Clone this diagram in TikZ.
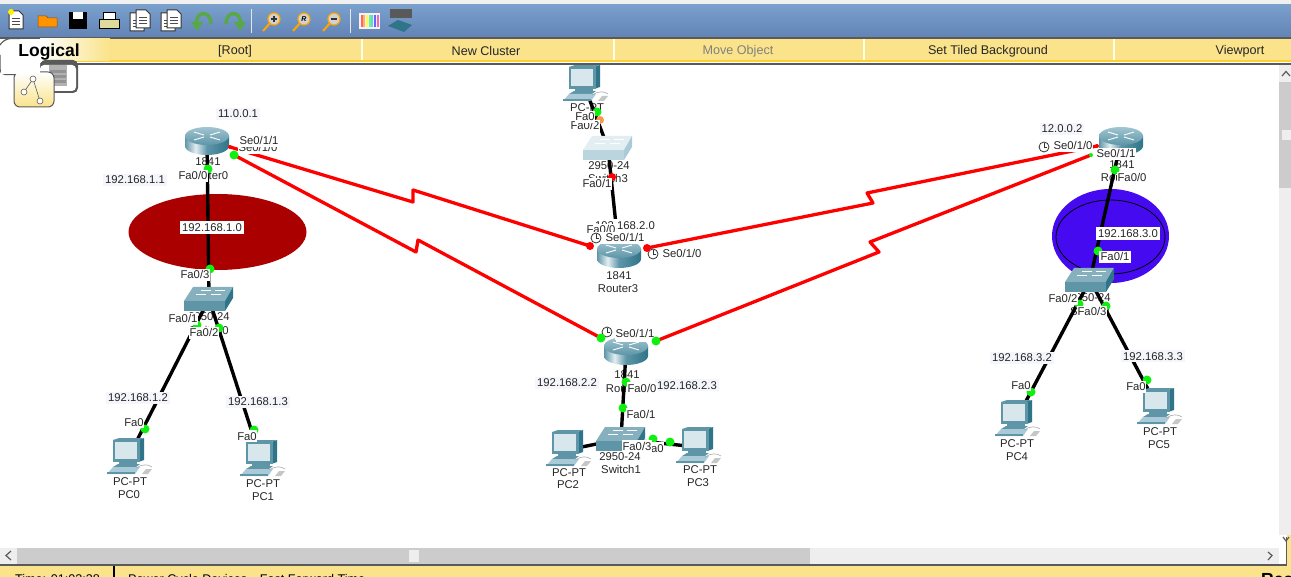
\documentclass[tikz,border=0pt]{standalone}
\usepackage{fontspec}
\setmainfont{Liberation Sans}
\definecolor{barY}{HTML}{FAE38A}
\definecolor{ipbg}{HTML}{F4F6FC}
\definecolor{trackG}{HTML}{CCCCCC}
\definecolor{btnG}{HTML}{EEEEEE}
\definecolor{edgeG}{HTML}{5A5A5A}
\definecolor{teal1}{HTML}{5E96A8}
\definecolor{teal2}{HTML}{2F7488}
\definecolor{teal3}{HTML}{A9CAD6}
\definecolor{teal4}{HTML}{E2EEF2}
\definecolor{okG}{HTML}{10F010}
\definecolor{undoG}{HTML}{58A848}
\pgfdeclarehorizontalshading{rbody}{100bp}{color(0bp)=(teal1); color(25bp)=(teal1); color(37bp)=(teal4); color(50bp)=(teal1); color(75bp)=(teal2); color(100bp)=(teal2)}
\tikzset{
  x=1pt,y=-1pt,
  wire/.style={line width=3.4pt,black},
  serial/.style={line width=3.3pt,red,line join=round},
  txt/.style={font=\fontsize{11.3}{12}\selectfont,inner xsep=0.5pt,inner ysep=0pt,text height=8pt,text depth=0pt,text=black!85},
  port/.style={txt,fill=white,inner ysep=2pt},
  ip/.style={txt,fill=ipbg,inner xsep=2pt,inner ysep=2pt},
  net/.style={txt,fill=white,inner xsep=2.5pt,inner ysep=2.5pt},
  menu/.style={font=\fontsize{12.6}{13}\selectfont,inner sep=0pt,text=black!85},
  okdot/.style={circle,fill=okG,minimum size=9pt,inner sep=0pt},
  reddot/.style={circle,fill=red,minimum size=8pt,inner sep=0pt},
  orgdot/.style={circle,fill=orange!80!red!70,minimum size=8pt,inner sep=0pt},
  routericon/.pic={
    \shade[shading=rbody]
      (-22,-5) -- (-22,5) arc[x radius=22,y radius=9,start angle=180,end angle=0] -- (22,-5) -- cycle;
    \shade[top color=teal3!90!teal1,bottom color=teal1] (0,-5) ellipse[x radius=22,y radius=9];
    \draw[white,line width=0.9pt] (-13,-9) -- (-3,-6) (13,-9) -- (3,-6) (-13,-1) -- (-3,-4) (13,-1) -- (3,-4);
  },
  switchicon/.pic={
    \fill[teal1!75!white] (-25,2) -- (-16,-12) -- (24,-12) -- (16,2) -- cycle;
    \fill[teal1] (-25,2) rectangle (16,12);
    \fill[teal2] (16,2) -- (24,-12) -- (24,-1) -- (16,12) -- cycle;
    \draw[white,line width=0.6pt] (-13,-5) -- (-3,-5) (2,-5) -- (12,-5) (-8,-9) -- (2,-9) (6,-9) -- (16,-9);
  },
  lightswitchicon/.pic={
    \fill[teal4] (-25,2) -- (-16,-12) -- (24,-12) -- (16,2) -- cycle;
    \fill[teal3!80!white] (-25,2) rectangle (16,12);
    \fill[teal3] (16,2) -- (24,-12) -- (24,-1) -- (16,12) -- cycle;
    \draw[white,line width=0.6pt] (-13,-5) -- (-3,-5) (2,-5) -- (12,-5) (-8,-9) -- (2,-9) (6,-9) -- (16,-9);
  },
  pcicon/.pic={
    \fill[teal2] (10,-18) -- (16,-20) -- (16,2) -- (10,4) -- cycle;
    \fill[teal1] (-15,-18) -- (10,-18) -- (16,-20) -- (-9,-20) -- cycle;
    \fill[teal1] (-15,-18) rectangle (12,4);
    \fill[teal4!80!teal3] (-13,-16) rectangle (9,1);
    \fill[teal1] (-9,4) rectangle (9,7);
    \fill[teal1] (-15,9) -- (-10,6) -- (12,6) -- (8,9) -- (-15,9);
    \fill[teal3] (-21,16) -- (-15,9) -- (12,9) -- (7,16) -- cycle;
    \fill[teal1] (-21,14) -- (7,14) -- (7,16) -- (-21,16) -- cycle;
    \draw[gray!70,line width=0.6pt] (8,10) .. controls (14,6) and (20,6) .. (24,9);
    \fill[gray!45] (14,16) -- (18,11) -- (24,11) -- (20,16) -- cycle;
  },
  clockicon/.pic={
    \draw[black!80,fill=white,line width=0.8pt] (0,0) circle[radius=5];
    \draw[black!80,line width=0.8pt] (0,-3.5) -- (0,0) -- (3,0);
  },
  docicon/.pic={
    \fill[white,draw=black!80,line width=1pt] (-7,-9) -- (3,-9) -- (7,-5) -- (7,9) -- (-7,9) -- cycle;
    \draw[black!70,line width=0.6pt] (-4,-2) -- (4,-2) (-4,1) -- (4,1) (-4,4) -- (4,4);
  },
  glass/.pic={
    \draw[orange!70!yellow,line width=2pt] (-8,9) -- (0,0);
    \fill[gray!35,draw=orange!70!yellow,line width=1.2pt] (3,-3) circle[radius=6];
  }
}
\begin{document}
\begin{tikzpicture}
\useasboundingbox (0,0) rectangle (1291,577);
\clip (0,0) rectangle (1291,577);
\fill[white] (0,0) rectangle (1291,577);

% device positions
\coordinate (r0) at (207,141);
\coordinate (r1) at (626,351);
\coordinate (r2) at (1121,141);
\coordinate (r3) at (619,254);
\coordinate (s0) at (209,299);
\coordinate (s1) at (621,439);
\coordinate (s2) at (1090,280);
\coordinate (s3) at (608,148);
\coordinate (pc0) at (128,458);
\coordinate (pc1) at (261,460);
\coordinate (pc2) at (567,450);
\coordinate (pc3) at (697,447);
\coordinate (pc4) at (1016,420);
\coordinate (pc5) at (1158,408);
\coordinate (pc6) at (584,85);

% clusters
\fill[red!67!black] (217.5,232) ellipse[x radius=89,y radius=38];
\fill[fill={rgb,255:red,70;green,10;blue,240}] (1110.5,236) ellipse[x radius=58.5,y radius=47];
\draw[black,line width=0.8pt] (1110.5,237) ellipse[x radius=54.5,y radius=37];

% device captions
\foreach \n/\p/\t in {
 n1/{208,162}/1841, n2/{208,176}/Router0, n3/{209,317}/2950-24, n4/{209,331}/Switch0,
 n5/{130,481}/PC-PT, n6/{129,494}/PC0, n7/{263,483}/PC-PT, n8/{263,496}/PC1,
 n9/{569,472}/PC-PT, n10/{568,484}/PC2, n11/{700,469}/PC-PT, n12/{698,482}/PC3,
 n13/{620,456}/2950-24, n14/{621,469}/Switch1, n15/{627,374}/1841, n16/{626,388}/Router1,
 n17/{619,276}/1841, n18/{618,289}/Router3, n19/{609,166}/2950-24, n20/{608,179}/Switch3,
 n21/{587,108}/PC-PT, n22/{1122,165}/1841, n23/{1121,178}/Router2, n24/{1090,298}/2950-24,
 n25/{1090,312}/Switch2, n26/{1017,443}/PC-PT, n27/{1017,456}/PC4, n28/{1160,431}/PC-PT,
 n29/{1159,444}/PC5}
 {\node[txt] (\n) at (\p) {\t};}

% links
\draw[wire] (r0) -- (s0);
\draw[wire] (s0) -- (pc0);
\draw[wire] (s0) -- (pc1);
\draw[wire] (pc6) -- (s3);
\draw[wire] (s3) -- (r3);
\draw[wire] (r1) -- (s1);
\draw[wire] (s1) -- (pc2);
\draw[wire] (s1) -- (pc3);
\draw[wire] (r2) -- (s2);
\draw[wire] (s2) -- (pc4);
\draw[wire] (s2) -- (pc5);

% serial end points
\coordinate (a0) at (230,147);
\coordinate (a1) at (234,155);
\coordinate (a2) at (590,246);
\coordinate (a3) at (601,338);
\coordinate (a4) at (647,248);
\coordinate (a5) at (656,341);
\coordinate (a6) at (1097,146);
\coordinate (a7) at (1091,155);
\draw[serial] (a0) -- (413,202) -- (413,190) -- (a2);
\draw[serial] (a1) -- (416,252) -- (418,240) -- (a3);
\draw[serial] (a4) -- (873,203) -- (867,193) -- (a6);
\draw[serial] (a5) -- (879,252) -- (870,242) -- (a7);

% icons
\pic at (r0) {routericon};
\pic at (r1) {routericon};
\pic at (r2) {routericon};
\pic at (r3) {routericon};
\pic at (s0) {switchicon};
\pic at (s1) {switchicon};
\pic at (s2) {switchicon};
\pic at (s3) {lightswitchicon};
\foreach \c in {pc0,pc1,pc2,pc3,pc4,pc5,pc6} {\pic at (\c) {pcicon};}

% link lights under the labels
\foreach \n/\p in {
 d1/{208,169}, d2/{210,269}, d4/{197,325}, d5/{219,328}, d6/{145,429}, d7/{254,430},
 d8/{597,112}, d11/{626,382}, d12/{623,408}, d13/{653,439}, d14/{670,442},
 d15/{1115,170}, d16/{1098,251}, d17/{1079,304}, d18/{1106,306}, d19/{1031,392}, d20/{1147,380}}
 {\node[okdot] (\n) at (\p) {};}
\node[okdot,minimum size=4pt] (d21) at (1091,155) {};
\node[orgdot] (d22) at (600,120) {};
\node[reddot] (d23) at (612,177) {};
\node[reddot,minimum size=4pt] (d26) at (1097,146) {};
\node[reddot,minimum size=4pt] (d27) at (230,147) {};

% addresses
\node[ip] (ip1) at (238,114) {11.0.0.1};
\node[ip] (ip2) at (135,180) {192.168.1.1};
\node[net] (ip3) at (212,228) {192.168.1.0};
\node[ip] (ip4) at (138,398) {192.168.1.2};
\node[ip] (ip5) at (258,402) {192.168.1.3};
\node[ip] (ip6) at (567,383) {192.168.2.2};
\node[ip] (ip7) at (687,385) {192.168.2.3};
\node[ip] (ip9) at (1062,129) {12.0.0.2};
\node[net] (ip10) at (1128,234) {192.168.3.0};
\node[ip] (ip11) at (1022,358) {192.168.3.2};
\node[ip] (ip12) at (1153,356) {192.168.3.3};

% port labels
\node[port] (p1) at (258,148) {Se0/1/0};
\node[port] (p2) at (259,141) {Se0/1/1};
\node[port] (p3) at (193,176) {Fa0/0};
\node[port] (p4) at (195,275) {Fa0/3};
\node[port] (p5) at (183,319) {Fa0/1};
\node[port] (p6) at (204,333) {Fa0/2};
\node[port] (p7) at (134,422) {Fa0};
\node[port] (p8) at (247,436) {Fa0};
\node[port] (p9) at (585,126) {Fa0/2};
\node[port] (p10) at (585,117) {Fa0};
\node[port] (p11) at (597,184) {Fa0/1};
\node[net] (ip8) at (625,226) {192.168.2.0};
\node[port] (p12) at (601,230) {Fa0/0};
\node[port] (p13) at (619,238) {\hspace{12pt}Se0/1/1};
\node[port] (p14) at (682,254) {Se0/1/0};
\node[port] (p15) at (636,336) {Se0/1/0};
\node[port] (p16) at (635,334) {Se0/1/1};
\node[port] (p17) at (642,388) {Fa0/0};
\node[port] (p18) at (641,414) {Fa0/1};
\node[port] (p19) at (654,448) {Fa0};
\node[port] (p20) at (637,446) {Fa0/3};
\node[port] (p21) at (1073,146) {Se0/1/0};
\node[port] (p22) at (1116,154) {Se0/1/1};
\node[port] (p23) at (1132,178) {Fa0/0};
\node[port,inner xsep=2pt] (p24) at (1115,257) {Fa0/1};
\node[port] (p25) at (1063,299) {Fa0/2};
\node[port] (p26) at (1092,312) {Fa0/3};
\node[port] (p27) at (1021,385) {Fa0};
\node[port] (p28) at (1136,387) {Fa0};
\pic at (596,238) {clockicon};
\pic at (653,254) {clockicon};
\pic at (607,332) {clockicon};
\pic at (1044,147) {clockicon};

% link lights over the labels
\node[okdot] (d3) at (234,155) {};
\node[okdot] (d9) at (601,338) {};
\node[okdot] (d10) at (656,341) {};
\node[reddot] (d24) at (590,246) {};
\node[reddot] (d25) at (647,248) {};

% top chrome
\fill[white!94!black] (0,0) rectangle (1291,4);
\shade[top color={rgb,255:red,122;green,160;blue,204},bottom color={rgb,255:red,98;green,132;blue,182}] (0,5) rectangle (1291,37);
\fill[edgeG] (0,37) rectangle (1291,39);
\fill[barY] (0,39) rectangle (1291,61);
\fill[yellow!60!orange!80] (0,60) rectangle (1291,62);
\fill[edgeG] (0,63) rectangle (1291,65);
\foreach \x in {361,613,863,1113} {\fill[white!90!yellow] (\x,39) rectangle (\x+2,60);}
\node[menu] (m1) at (235,51) {[Root]};
\node[menu] (m2) at (486,51) {New Cluster};
\node[menu,text=black!50] (m3) at (738,51) {Move Object};
\node[menu] (m4) at (988,51) {Set Tiled Background};
\node[menu] (m5) at (1240,51) {Viewport};

% toolbar
\pic at (16,20) {docicon};
\fill[yellow] (11,12) circle[radius=3];
\fill[orange!85!yellow,draw=orange!60!black,line width=0.5pt] (38,27) -- (38,16) -- (46,16) -- (48,18) -- (57,18) -- (57,27) -- cycle;
\fill[black] (69,12) rectangle (87,29);
\fill[white] (73,12) rectangle (83,19);
\fill[olive!30!white,draw=black,line width=0.8pt] (99,19) rectangle (119,28);
\fill[white,draw=black,line width=0.8pt] (103,12) rectangle (115,19);
\pic at (137,22) {docicon};
\pic at (143,19) {docicon};
\pic at (168,22) {docicon};
\pic at (174,19) {docicon};
\draw[undoG,line width=3.5pt] (197,25) .. controls (194,11) and (211,9) .. (211,24);
\fill[undoG] (191,22) -- (203,22) -- (197,31) -- cycle;
\draw[undoG,line width=3.5pt] (226,24) .. controls (226,9) and (243,11) .. (240,25);
\fill[undoG] (234,22) -- (246,22) -- (240,31) -- cycle;
\fill[white!80!gray] (251,9) rectangle (252,33);
\pic at (271,22) {glass};
\pic at (301,22) {glass};
\pic at (331,22) {glass};
\draw[black!80,line width=1.2pt] (271,19) -- (277,19) (274,16) -- (274,22);
\draw[black!80,line width=1.2pt] (331,19) -- (337,19);
\node[inner sep=0pt,font=\fontsize{7}{8}\selectfont\bfseries\itshape] (zr) at (304,19) {R};
\fill[white!80!gray] (350,9) rectangle (351,33);
\fill[white!90!gray] (359,13) rectangle (380,29);
\foreach \i/\c in {0/red,1/orange,2/yellow,3/green,4/cyan,5/blue,6/magenta}
  {\fill[\c!60!white] (360.5+\i*2.7,15) rectangle (362.5+\i*2.7,27);}
\fill[gray!70!black] (390,9) rectangle (412,18);
\fill[teal2] (388,26) -- (398,20) -- (412,25) -- (404,32) -- cycle;

% logical tab
\shade[left color=white,right color=barY] (40,39) rectangle (110,61);
\fill[edgeG,rounded corners=5pt] (40,60) rectangle (78,93);
\fill[white,rounded corners=4pt] (40,65) rectangle (76,91);
\fill[gray!60] (49,65) rectangle (67,86);
\foreach \y in {70,75,80} {\fill[gray!85] (50,\y) rectangle (66,\y+3);}
\fill[white] (0,39) rectangle (42,62);
\fill[white,rounded corners=5pt] (0,55) rectangle (40,75);
\draw[edgeG,line width=1.2pt,rounded corners=6pt] (20,38.5) -- (5,38.5) -- (0,45);
\draw[edgeG,line width=1.2pt,rounded corners=5pt] (0,55) -- (0,74.5) -- (16,74.5);
\shade[top color=white,bottom color=barY,draw=edgeG,line width=1pt,rounded corners=6pt] (14,72) rectangle (54,107);
\fill[white] (1,62) rectangle (40,74);
\draw[edgeG,line width=0.6pt] (33,79) -- (24,92) (33,79) -- (40,101);
\filldraw[draw=edgeG,fill=white,line width=0.6pt] (33,79) circle[radius=3];
\filldraw[draw=edgeG,fill=white,line width=0.6pt] (24,92) circle[radius=3];
\filldraw[draw=edgeG,fill=white,line width=0.6pt] (40,101) circle[radius=3];
\node[inner sep=0pt,font=\fontsize{17.5}{18}\selectfont\bfseries] (logical) at (49,52) {Logical};

% scroll bars
\fill[btnG] (1279,65) rectangle (1291,535);
\fill[trackG] (1279,82) rectangle (1291,188);
\fill[btnG] (1282,130) rectangle (1291,140);
\draw[edgeG,line width=1.2pt] (1282,76) -- (1286,71.5) -- (1290,76);
\fill[btnG] (0,548) rectangle (1279,564);
\fill[trackG] (17,548) rectangle (810,564);
\fill[btnG] (409,550) rectangle (419,562);
\draw[edgeG,line width=1.2pt] (11,551) -- (6,555.5) -- (11,560);
\draw[edgeG,line width=1.2pt] (1268,552) -- (1272,555.5) -- (1268,560);

% status bar
\fill[barY] (0,566) rectangle (1291,577);
\fill[barY] (1287,535) rectangle (1291,566);
\fill[edgeG] (0,564) rectangle (1287,566);
\fill[edgeG] (1285.5,537) rectangle (1287,566);
\draw[edgeG,line width=1.2pt] (1283,537) -- (1286,541) -- (1289,537);
\fill[black] (113,566) rectangle (115,577);
\node[menu,anchor=base west,text=black] (tm) at (15,583) {Time: 01:02:38};
\node[menu,anchor=base west,text=black] (pw) at (128,583) {Power Cycle Devices\quad Fast Forward Time};
\node[anchor=base west,inner sep=0pt,font=\fontsize{17.5}{18}\selectfont\bfseries] (rt) at (1261,585) {Realtime};
\end{tikzpicture}
\end{document}
